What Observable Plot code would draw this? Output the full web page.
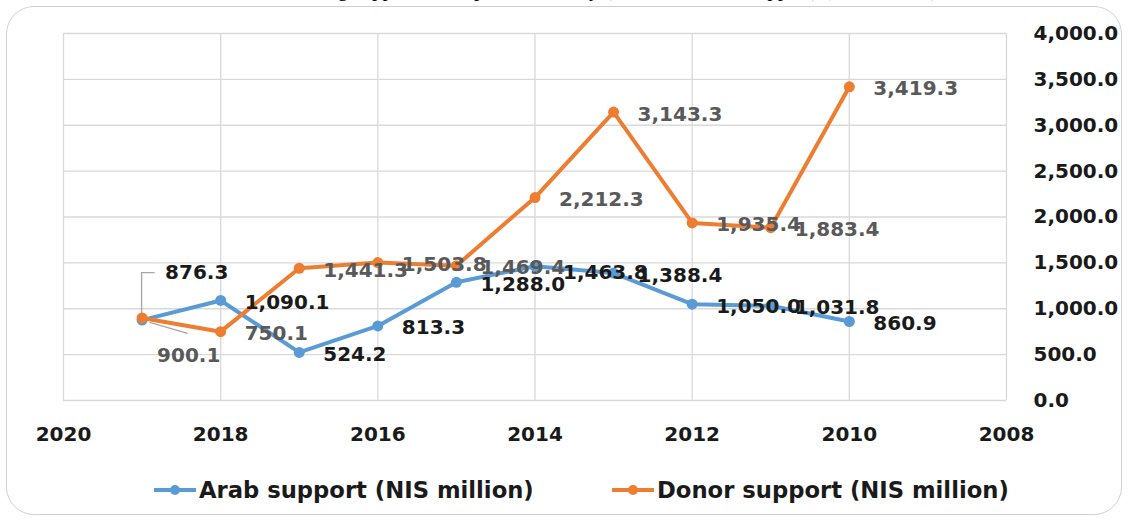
<!DOCTYPE html>
<html>
<head>
<meta charset="utf-8">
<script src="https://cdn.jsdelivr.net/npm/d3@7"></script>
<script src="https://cdn.jsdelivr.net/npm/@observablehq/plot@0.6"></script>
<style>
  html, body { margin: 0; padding: 0; background: #fff; }
  #wrap { position: relative; width: 1130px; height: 522px; overflow: hidden; background: #fff; }
  #frame { position: absolute; left: 6px; top: 6px; width: 1116px; height: 509px;
           border: 1.5px solid #d0d0d0; border-radius: 28px; box-sizing: border-box; }
  #title { position: absolute; left: 0; width: 1130px; top: -21px; text-align: center;
           font-family: "Liberation Serif", serif; font-size: 21px; line-height: 21px; color: #000; white-space: nowrap; }
  #chart { position: absolute; left: 0; top: 0; }
  #legend { position: absolute; top: 476px; left: 0; width: 1130px; height: 28px;
            font-family: "DejaVu Sans", sans-serif; font-weight: bold; font-size: 22.7px; color: #1a1a1a; }
  .item { position: absolute; top: 0; display: flex; align-items: center; height: 28px; white-space: nowrap; }
  .item svg { margin-right: 3px; }
</style>
</head>
<body>
<div id="wrap">
  <div id="frame"></div>
  <div id="title"></div>
  <div id="chart"></div>
  <div id="legend"></div>
</div>
<script>
// ---- data ----
const years = [2019, 2018, 2017, 2016, 2015, 2014, 2013, 2012, 2011, 2010];
const arabSupport = [876.3, 1090.1, 524.2, 813.3, 1288.0, 1463.8, 1388.4, 1050.0, 1031.8, 860.9];
const donorSupport = [900.1, 750.1, 1441.3, 1503.8, 1469.4, 2212.3, 3143.3, 1935.4, 1883.4, 3419.3];
const seriesNames = ["Arab support (NIS million)", "Donor support (NIS million)"];
const xTickValues = [2020, 2018, 2016, 2014, 2012, 2010, 2008];
const yTickValues = [0, 500, 1000, 1500, 2000, 2500, 3000, 3500, 4000];
const titleText = "External financing support to the public treasury (Arab and donor support) (NIS million)";

// ---- styling ----
const blue = "#5B9BD5";
const orange = "#ED7D31";
const fmt = d3.format(",.1f");
const font = "DejaVu Sans, sans-serif";

const arab = years.map((year, i) => ({year, value: arabSupport[i]}));
const donor = years.map((year, i) => ({year, value: donorSupport[i]}));

document.getElementById("title").textContent = titleText;

const labelOpts = {x: "year", y: "value", text: d => fmt(d.value), textAnchor: "start",
  fontFamily: font, fontWeight: "bold", fontSize: 20};

const leaders = (index, scales) => {
  const g = d3.create("svg:g").attr("fill", "none").attr("stroke", "#a6a6a6").attr("stroke-width", 1.3);
  const bx = scales.x(years[0]);
  const by = scales.y(arabSupport[0]);
  const oy = scales.y(donorSupport[0]);
  g.append("path").attr("d", `M${bx},${by - 4}V${by - 47}H${bx + 13}`);
  g.append("path").attr("d", `M${bx + 8},${oy + 5}L${bx + 46},${oy + 16}`);
  return g.node();
};

const chart = Plot.plot({
  width: 1130,
  height: 460,
  marginLeft: 63,
  marginRight: 124,
  marginTop: 33,
  marginBottom: 60,
  style: {background: "transparent", overflow: "visible"},
  x: {type: "linear", domain: [2020, 2008]},
  y: {domain: [0, 4000]},
  marks: [
    Plot.gridY(yTickValues, {stroke: "#d9d9d9", strokeOpacity: 1, strokeWidth: 1.3}),
    Plot.gridX(xTickValues, {stroke: "#d9d9d9", strokeOpacity: 1, strokeWidth: 1.3}),
    Plot.axisY(yTickValues, {anchor: "right", tickSize: 0, tickPadding: 27, tickFormat: fmt, label: null,
      fontFamily: font, fontWeight: "bold", fontSize: 20, fill: "#1a1a1a", textAnchor: "start"}),
    Plot.axisX(xTickValues, {anchor: "bottom", tickSize: 0, tickPadding: 26, tickFormat: d => String(d), label: null,
      fontFamily: font, fontWeight: "bold", fontSize: 20, fill: "#1a1a1a"}),
    leaders,
    Plot.line(arab, {x: "year", y: "value", stroke: blue, strokeWidth: 4, curve: "linear"}),
    Plot.dot(arab, {x: "year", y: "value", fill: blue, r: 5.5}),
    Plot.line(donor, {x: "year", y: "value", stroke: orange, strokeWidth: 4, curve: "linear"}),
    Plot.dot(donor, {x: "year", y: "value", fill: orange, r: 5.5}),
    Plot.text(arab.filter(d => d.year !== 2019 && d.year !== 2014), {...labelOpts, dx: 24, dy: 2, fill: "#1a1a1a"}),
    Plot.text(arab.filter(d => d.year === 2014), {...labelOpts, dx: 28, dy: 6, fill: "#1a1a1a"}),
    Plot.text(arab.filter(d => d.year === 2019), {...labelOpts, dx: 23, dy: -48, fill: "#1a1a1a"}),
    Plot.text(donor.filter(d => d.year !== 2019), {...labelOpts, dx: 24, dy: 2, fill: "#595959"}),
    Plot.text(donor.filter(d => d.year === 2019), {...labelOpts, dx: 15, dy: 38, fill: "#595959"})
  ]
});
document.getElementById("chart").appendChild(chart);

// ---- legend ----
const legend = document.getElementById("legend");
const legendLefts = [154, 612];
[[seriesNames[0], blue], [seriesNames[1], orange]].forEach(([name, color], i) => {
  const item = document.createElement("div");
  item.className = "item";
  item.style.left = legendLefts[i] + "px";
  item.innerHTML = `<svg width="42" height="14"><line x1="0" x2="42" y1="7" y2="7" stroke="${color}" stroke-width="4"/><circle cx="21" cy="7" r="5" fill="${color}"/></svg><span>${name}</span>`;
  legend.appendChild(item);
});
</script>
</body>
</html>
